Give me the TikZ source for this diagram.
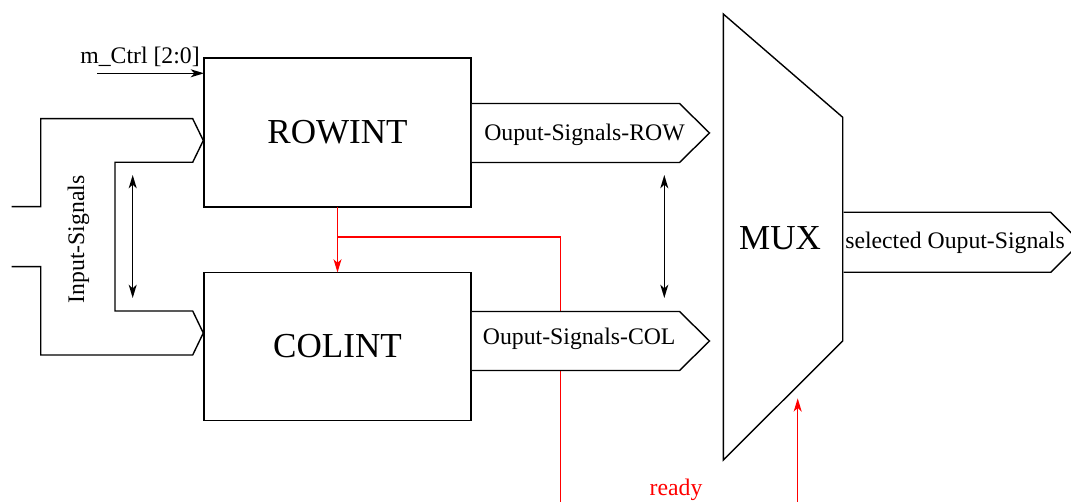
\documentclass[tikz,border=0pt]{standalone}
\usepackage{fontspec}
\setmainfont{Liberation Serif}
\usetikzlibrary{arrows.meta}
\begin{document}
\begin{tikzpicture}[x=0.75pt,y=-0.75pt,
  wire/.style={line width=1.05pt,black},
  sig/.style={line width=1.05pt,red},
  tip/.style={-{Stealth[length=10pt,width=6pt,inset=2.8pt]}},
  both/.style={{Stealth[length=10pt,width=6pt,inset=2.8pt]}-{Stealth[length=10pt,width=6pt,inset=2.8pt]}},
  block/.style={draw,line width=1.05pt,fill=white,inner sep=0pt,outer sep=0pt,
    minimum width=200.25pt,font=\fontsize{26.3}{30}\selectfont},
  big/.style={inner sep=0pt,font=\fontsize{26.3}{30}\selectfont},
  lbl/.style={inner sep=0pt,font=\fontsize{17.8}{20}\selectfont},
]
\useasboundingbox (0,0) rectangle (1071,502);
\clip (0,0) rectangle (1071,502);

% interpolator blocks
\node[block,minimum height=111.75pt] (rowint) at (337.5,132.5) {ROWINT};
\node[block,minimum height=111pt] (colint) at (337.5,346.5) {COLINT};

% input bus feeding both blocks
\draw[wire] (11.7,206.7) -- (40.7,206.7) -- (40.7,118.7) -- (192.7,118.7)
  -- (203.3,140.5) -- (192.7,162.3) -- (115,162.3) -- (115,311)
  -- (192.7,311) -- (203.3,333) -- (192.7,355) -- (40.7,355)
  -- (40.7,266.7) -- (11.7,266.7);
\node[lbl,rotate=90] (insig) at (78.5,239.5) {Input-Signals};
\coordinate (inA) at (132.7,175);
\coordinate (inB) at (132.7,298);
\draw[wire,both] (inA) -- (inB);

% control input
\node[lbl,anchor=base] (mctrl) at (140,63.3) {m\_Ctrl [2:0]};
\coordinate (ctrlIn) at (97,73.3);
\draw[wire,tip] (ctrlIn) -- (ctrlIn -| rowint.west);

% ready handshake (drawn first so the COL output sits on top)
\draw[sig,tip] (rowint.south) -- (colint.north);
\coordinate (jn) at (337.5,237);
\coordinate (rdyTurn) at (560.3,237);
\coordinate (rdyEnd) at (560.3,502);
\draw[sig] (jn) -- (rdyTurn) -- (rdyEnd);

% block outputs, starting just right of the block borders
\draw[wire,fill=white] (471.8,103.5) -- (679.5,103.5) -- (709.5,133)
  -- (679.5,162.5) -- (471.8,162.5);
\node[lbl,anchor=west] (rowout) at (484,135) {Ouput-Signals-ROW};
\draw[wire,fill=white] (471.8,311.5) -- (679.5,311.5) -- (709.5,341)
  -- (679.5,370.5) -- (471.8,370.5);
\node[lbl,anchor=west] (colout) at (482.7,339) {Ouput-Signals-COL};
\coordinate (outA) at (664.3,175);
\coordinate (outB) at (664.3,298);
\draw[wire,both] (outA) -- (outB);

% multiplexer
\draw[wire] (723.3,14) -- (842.7,117.3) -- (842.7,341) -- (723.3,460) -- cycle;
\node[big] (mux) at (780,238) {MUX};
\draw[wire] (843.5,212.3) -- (1050.7,212.3) -- (1080.7,242.3)
  -- (1050.7,272.3) -- (843.5,272.3);
\node[lbl,anchor=west] (muxout) at (845,243) {selected Ouput-Signals};

% ready into the multiplexer
\coordinate (rdyIn) at (797.7,502);
\coordinate (muxIn) at (797.7,398.3);
\draw[sig,tip] (rdyIn) -- (muxIn);
\node[lbl,red,anchor=base] (ready) at (676,495) {ready};
\end{tikzpicture}
\end{document}
